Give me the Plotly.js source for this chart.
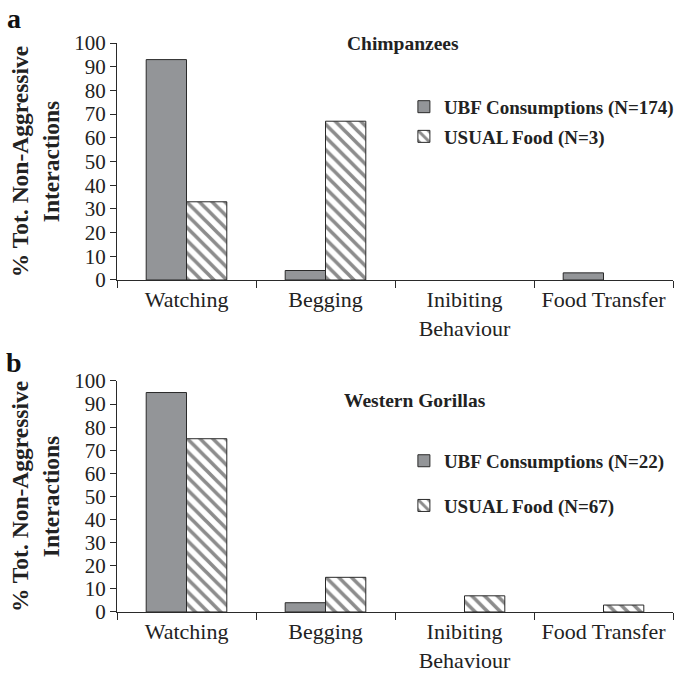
<!DOCTYPE html>
<html><head><meta charset="utf-8">
<script src="https://cdn.plot.ly/plotly-3.0.1.min.js"></script>
<style>body{margin:0;background:#fff}#g{width:683px;height:697px}</style>
</head><body><div id="g"></div>
<script>
const categories = ["Watching", "Begging", "Inibiting<br>Behaviour", "Food Transfer"];
const chimpUBF = [93, 4, 0, 3];
const chimpUsual = [33, 67, 0, 0];
const gorillaUBF = [95, 4, 0, 0];
const gorillaUsual = [75, 15, 7, 3];
const yTicks = [0, 10, 20, 30, 40, 50, 60, 70, 80, 90, 100];

const F = "Liberation Serif, Times New Roman, serif";
const gray = "#939598";
const edge = "#2a2a2a";
const lw = (vals) => vals.map(v => v > 0 ? 1 : 0);
const solidBar = (vals) => ({color: gray, line: {color: edge, width: lw(vals)}});
const hatchBar = (vals) => ({color: "#ffffff", line: {color: edge, width: lw(vals)},
  pattern: {shape: "\\", fgcolor: "#8c8c8c", bgcolor: "#ffffff", size: 9, solidity: 0.4, fillmode: "replace"}});

const traces = [
  {type: "bar", x: categories, y: chimpUBF, name: "UBF Consumptions (N=174)", marker: solidBar(chimpUBF), xaxis: "x", yaxis: "y", legend: "legend", legendgroup: "a1"},
  {type: "bar", x: categories, y: chimpUsual, name: "USUAL Food (N=3)", marker: hatchBar(chimpUsual), xaxis: "x", yaxis: "y", legend: "legend", legendgroup: "a2"},
  {type: "bar", x: categories, y: gorillaUBF, name: "UBF Consumptions (N=22)", marker: solidBar(gorillaUBF), xaxis: "x2", yaxis: "y2", legend: "legend2", legendgroup: "b1"},
  {type: "bar", x: categories, y: gorillaUsual, name: "USUAL Food (N=67)", marker: hatchBar(gorillaUsual), xaxis: "x2", yaxis: "y2", legend: "legend2", legendgroup: "b2"}
];

const xax = (anchor) => ({anchor: anchor, type: "category", showline: true, linecolor: edge, linewidth: 1,
  ticks: "outside", tickson: "boundaries", ticklen: 7, tickcolor: edge, showgrid: false, zeroline: false,
  tickfont: {family: F, size: 22, color: "#222"}, automargin: false});
const yax = (anchor, dom) => ({anchor: anchor, domain: dom, range: [0, 100], tickvals: yTicks,
  showline: true, linecolor: edge, linewidth: 1, ticks: "outside", ticklen: 6, tickcolor: edge,
  showgrid: false, zeroline: false, tickfont: {family: F, size: 21, color: "#222"}, automargin: false,
  title: {text: "% Tot. Non-Aggressive<br>Interactions", font: {family: F, size: 23.5, color: "#222", weight: "bold"}, standoff: 8}});

const legendBase = (y, gap) => ({x: 0.516, xanchor: "left", y: y, yanchor: "top", traceorder: "grouped", tracegroupgap: gap,
  font: {family: F, size: 19, color: "#222", weight: "bold"}, bgcolor: "rgba(0,0,0,0)"});

const layout = {
  width: 683, height: 697,
  margin: {l: 117, r: 10, t: 0, b: 0},
  paper_bgcolor: "#fff", plot_bgcolor: "#fff",
  barmode: "group", bargap: 0.42, bargroupgap: 0,
  showlegend: true,
  xaxis: xax("y"),
  yaxis: yax("x", [0.5983, 0.9383]),
  xaxis2: xax("y2"),
  yaxis2: yax("x2", [0.1220, 0.4534]),
  legend: legendBase(0.874, 2),
  legend2: legendBase(0.366, 17),
  annotations: [
    {text: "Chimpanzees", xref: "paper", yref: "paper", x: 0.514, y: 0.937, showarrow: false, xanchor: "center", yanchor: "middle",
     font: {family: F, size: 19.5, color: "#222", weight: "bold"}},
    {text: "Western Gorillas", xref: "paper", yref: "paper", x: 0.536, y: 0.425, showarrow: false, xanchor: "center", yanchor: "middle",
     font: {family: F, size: 19.5, color: "#222", weight: "bold"}},
    {text: "a", xref: "paper", yref: "paper", x: -0.185, y: 0.999, showarrow: false, xanchor: "center", yanchor: "top",
     font: {family: F, size: 28, color: "#111", weight: "bold"}},
    {text: "b", xref: "paper", yref: "paper", x: -0.185, y: 0.480, showarrow: false, xanchor: "center", yanchor: "middle",
     font: {family: F, size: 28, color: "#111", weight: "bold"}}
  ]
};

Plotly.newPlot("g", traces, layout, {displayModeBar: false, staticPlot: true});
</script></body></html>
